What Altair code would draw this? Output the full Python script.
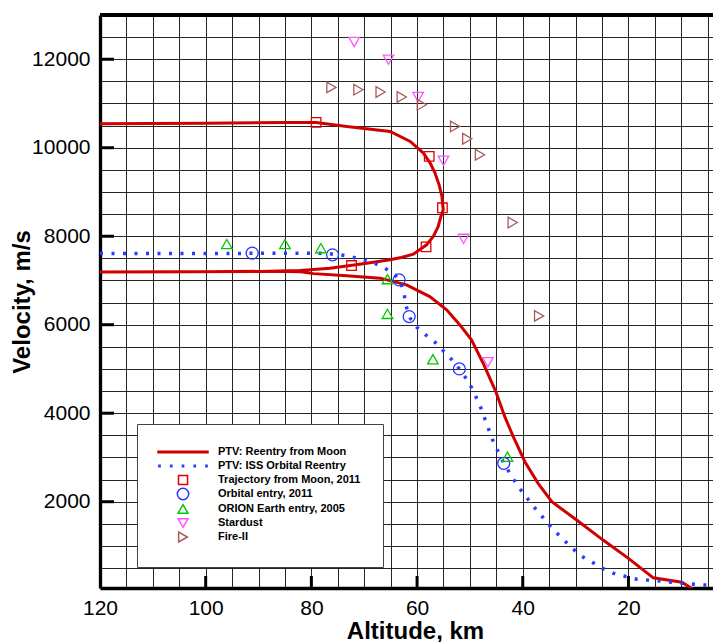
import altair as alt
import pandas as pd

# ---------------- data ----------------
NAMES = ["PTV: Reentry from Moon", "PTV: ISS Orbital Reentry",
         "Trajectory from Moon, 2011", "Orbital entry, 2011",
         "ORION Earth entry, 2005", "Stardust", "Fire-II"]
COLORS = ["#d00000", "#2a3cff", "#e00000", "#2233ff", "#00c800", "#ff55ff", "#a85a5a"]

# PTV: Reentry from Moon (skip-out branch, then re-entry branch)
moon_alt = [120, 100, 85, 79.1, 73.3, 65.1, 61.3, 58.8, 57.5, 56.6, 55.8, 55.3, 55.05, 55.6, 56.0,
            56.9, 58.2, 60.7, 63.0, 65.1, 70.2, 76.5, 82.2, 90, 105, 120,
            100, 88, 82, 79.6, 73.3, 67.0, 62.0, 57.6, 54.4, 51.9, 49.7, 47.5, 45.1, 43.4, 41.8,
            39.6, 37.1, 34.5, 29.8, 24.8, 20.0, 15.3, 9.9, 8.0, 7.0]
moon_vel = [10540, 10555, 10572, 10568, 10482, 10369, 10143, 9880, 9650, 9428, 9150, 8899, 8600, 8400, 8220,
            8000, 7806, 7595, 7520, 7467, 7376, 7279, 7225, 7205, 7195, 7190,
            7198, 7208, 7195, 7155, 7105, 7053, 6901, 6636, 6336, 5996, 5657, 5130, 4488, 3922, 3470,
            2904, 2416, 2000, 1585, 1133, 719, 280, 180, 40, -60]

# PTV: ISS Orbital Reentry
iss_alt = [120, 100, 85, 78, 74.5, 72.7, 70.3, 68.1, 66.1, 64.2, 63.2, 62.5, 62.2, 61.7, 61.3, 60.0,
           58.2, 56.4, 54.9, 53.5, 52.0, 50.6, 49.5, 48.6, 47.7, 47.0, 46.2, 45.4, 44.3, 43.6, 42.1,
           41.0, 39.6, 38.2, 36.7, 35.3, 33.8, 32.2, 30.6, 28.9, 26.8, 24.9, 22.8, 20.7, 18.4, 16.2,
           14.0, 11.8, 9.6, 7.3, 5.1, 2.5]
iss_vel = [7610, 7610, 7615, 7618, 7580, 7541, 7467, 7392, 7279, 7127, 6976, 6750, 6500, 6250, 6148, 5936,
           5755, 5583, 5393, 5220, 5001, 4768, 4542, 4300, 4058, 3809, 3560, 3296, 3055, 2868, 2581,
           2361, 2151, 1925, 1721, 1510, 1321, 1133, 945, 771, 629, 493, 380, 315, 248, 228,
           206, 180, 154, 131, 115, 100]

traj_alt = [79.1, 57.7, 55.2, 58.3, 72.4]
traj_vel = [10572, 9803, 8643, 7761, 7338]

orb_alt = [91.2, 76.0, 63.4, 61.5, 52.0, 43.6]
orb_vel = [7618, 7580, 7014, 6184, 5001, 2868]

orion_alt = [96.0, 85.0, 78.2, 65.6, 65.6, 57.0, 42.9]
orion_vel = [7822, 7822, 7731, 7030, 6245, 5220, 3018]

stardust_alt = [71.9, 65.4, 59.8, 55.0, 51.2, 46.6]
stardust_vel = [12390, 11990, 11147, 9706, 7941, 5152]

fire_alt = [76.2, 71.1, 66.9, 62.9, 59.1, 52.8, 50.5, 48.1, 41.9, 36.9]
fire_vel = [11364, 11312, 11259, 11147, 10973, 10482, 10203, 9841, 8310, 6200]

x_grid = [120, 115, 110, 105, 100, 95, 90, 85, 80, 75, 70, 65, 60, 55, 50, 45, 40, 35, 30, 25, 20, 15, 10, 5]
y_grid = [500, 1000, 1500, 2000, 2500, 3000, 3500, 4000, 4500, 5000, 5500, 6000, 6500, 7000, 7500,
          8000, 8500, 9000, 9500, 10000, 10500, 11000, 11500, 12000, 12500]
x_major = [100, 80, 60, 40, 20]
y_major = [2000, 4000, 6000, 8000, 10000, 12000]

# ---------------- tables ----------------
moon_df = pd.DataFrame({"alt": moon_alt, "vel": moon_vel, "i": range(len(moon_alt))})
iss_df = pd.DataFrame({"alt": iss_alt, "vel": iss_vel, "i": range(len(iss_alt))})
pts = []
for name, xs, ys in [(NAMES[2], traj_alt, traj_vel), (NAMES[3], orb_alt, orb_vel),
                     (NAMES[4], orion_alt, orion_vel), (NAMES[5], stardust_alt, stardust_vel),
                     (NAMES[6], fire_alt, fire_vel)]:
    for a, v in zip(xs, ys):
        pts.append({"series": name, "alt": a, "vel": v})
pts_df = pd.DataFrame(pts)
xt_df = pd.DataFrame({"alt": x_major})
yt_df = pd.DataFrame({"vel": y_major})

# ---------------- chart ----------------
W, H = 613, 573
FONT = "Liberation Sans"
xscale = alt.Scale(domain=[120, 4.0], nice=False, zero=False)
yscale = alt.Scale(domain=[50, 13000], nice=False, zero=False)

xaxis = alt.Axis(values=x_grid, grid=True, ticks=False, labelOverlap=False, labelFlush=False,
                 labelExpr="datum.value % 20 == 0 ? format(datum.value, 'd') : ''",
                 labelPadding=9, title="Altitude, km", titlePadding=1, titleX=315)
yaxis = alt.Axis(values=y_grid, grid=True, ticks=False, labelOverlap=False, labelFlush=False,
                 labelExpr="datum.value % 2000 == 0 ? format(datum.value, 'd') : ''",
                 labelPadding=10, title="Velocity, m/s", titleX=-66, titleBaseline="bottom")

X = alt.X("alt:Q", scale=xscale, axis=xaxis)
Y = alt.Y("vel:Q", scale=yscale, axis=yaxis)

red = alt.Chart(moon_df).mark_line(color=COLORS[0], strokeWidth=3, clip=True).encode(
    x=X, y=Y, order="i:Q")
blue = alt.Chart(iss_df).mark_line(color=COLORS[1], strokeWidth=3.5, strokeDash=[3, 8.5],
                                   strokeCap="butt", clip=True).encode(x=X, y=Y, order="i:Q")

# symbol paths (unit box); a leading invisible move gives every legend row the same height
pad = "M0,-1.0M0,1.0"
line_path = pad + "M-5,-0.15H5V0.15H-5Z"
dot_path = pad + "".join("M%.2f,-0.15h0.24v0.3h-0.24Z" % (c - 0.12) for c in [-4.7, -2.35, 0, 2.35, 4.7])
square_path = pad + "M-0.9,-0.9H0.9V0.9H-0.9Z"
circle_path = "M1.13,0A1.13,1.13,0,1,1,-1.13,0A1.13,1.13,0,1,1,1.13,0Z"
tri_up = pad + "M0,-0.87L1,0.87L-1,0.87Z"
tri_down = pad + "M0,0.87L1,-0.87L-1,-0.87Z"
tri_right = pad + "M0.87,0L-0.87,1L-0.87,-1Z"
SHAPES = [line_path, dot_path, square_path, circle_path, tri_up, tri_down, tri_right]

leg = alt.Legend(orient="none", legendX=37, legendY=409, padding=22, fillColor="white",
                 strokeColor="#444", symbolSize=100, symbolStrokeWidth=1.5, symbolOpacity=1,
                 symbolOffset=18, labelOffset=29, labelFont=FONT, labelFontSize=11,
                 labelFontWeight="bold", labelColor="black", labelLimit=300, rowPadding=-5)

points = alt.Chart(pts_df).mark_point(filled=False, size=112, strokeWidth=1.3, opacity=1, clip=True).encode(
    x=X, y=Y,
    color=alt.Color("series:N", scale=alt.Scale(domain=NAMES, range=COLORS), legend=leg, title=None),
    shape=alt.Shape("series:N", scale=alt.Scale(domain=NAMES, range=SHAPES), legend=leg, title=None),
)

xticks = alt.Chart(xt_df).mark_rule(color="black", strokeWidth=3).encode(
    x=X, y=alt.value(H), y2=alt.value(H - 12))
yticks = alt.Chart(yt_df).mark_rule(color="black", strokeWidth=3).encode(
    y=Y, x=alt.value(0), x2=alt.value(14))
top = alt.Chart(xt_df).mark_rule(color="black", strokeWidth=3.3).encode(
    y=alt.value(0), x=alt.value(0), x2=alt.value(W))

chart = alt.layer(red, blue, points, xticks, yticks, top).properties(
    width=W, height=H,
    autosize=alt.AutoSizeParams(type="none"),
    padding={"left": 92, "top": 7, "right": 0, "bottom": 62},
).configure_view(strokeWidth=0).configure_axis(
    gridColor="black", gridOpacity=0.85, gridWidth=1,
    domainColor="black", domainWidth=3.3,
    labelFont=FONT, labelFontSize=21, labelColor="black",
    titleFont=FONT, titleFontSize=24, titleFontWeight="bold", titleColor="black",
)

chart.save("out.html", embed_options={"renderer": "svg", "actions": False})
